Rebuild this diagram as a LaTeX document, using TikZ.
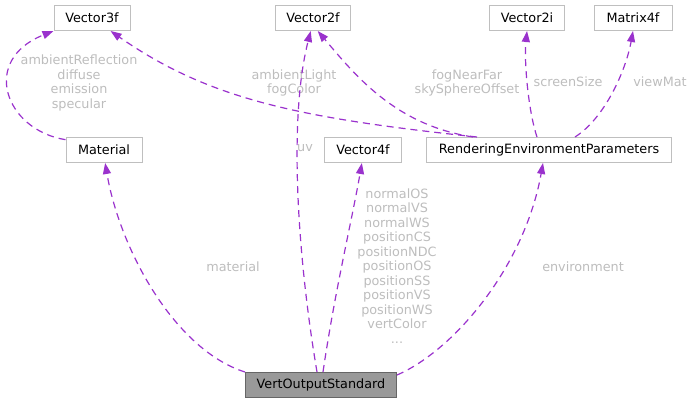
\documentclass[tikz,border=0pt]{standalone}
\usepackage{fontspec}
\setmainfont{DejaVu Sans}
\usetikzlibrary{arrows.meta}
\definecolor{edgepurple}{HTML}{9A32CD}
\definecolor{lblgrey}{HTML}{BDBDBD}
\definecolor{boxgrey}{HTML}{BFBFBF}
\definecolor{focusfill}{HTML}{999999}
\definecolor{focusdraw}{HTML}{666666}

\begin{document}
\begin{tikzpicture}[
    x=1pt, y=-1pt,
    >={Triangle[length=11pt, width=8pt, fill=edgepurple]},
    cls/.style={draw=boxgrey, line width=1pt, fill=white, minimum height=25pt,
                inner xsep=5pt, font=\fontsize{12.8}{14.5}\selectfont},
    focus/.style={cls, draw=focusdraw, fill=focusfill},
    uses/.style={->, draw=edgepurple, line width=1.2pt,
                 dash pattern=on 7pt off 5pt},
    lbl/.style={text=lblgrey, align=center, font=\fontsize{12.8}{14.5}\selectfont},
  ]
  \useasboundingbox (0,0) rectangle (695,403);

  % classes
  \node[cls, minimum width=76pt] (v3f) at (92,18) {Vector3f};
  \node[cls, minimum width=75pt] (v2f) at (313,18) {Vector2f};
  \node[cls, minimum width=75pt] (v2i) at (527,18) {Vector2i};
  \node[cls, minimum width=78pt] (m4f) at (633,18) {Matrix4f};
  \node[cls, minimum width=76pt] (mat) at (104,150) {Material};
  \node[cls, minimum width=77pt] (v4f) at (363,150) {Vector4f};
  \node[cls, minimum width=245pt] (rep) at (549,150) {RenderingEnvironmentParameters};
  \node[focus, minimum width=151pt] (vos) at (321,385) {VertOutputStandard};

  % members of Material
  \draw[uses] (mat.165) .. controls (5,130) and (-20,60) .. (v3f.south west);
  \node[lbl] (lmat) at (79,83) {ambientReflection\\diffuse\\emission\\specular};

  % members of RenderingEnvironmentParameters
  \draw[uses] ([xshift=-72pt]rep.north) .. controls (300,118) and (210,100) .. (v3f.-35);
  \node[lbl] (lamb) at (294,83) {ambientLight\\fogColor};
  \draw[uses] ([xshift=-76pt]rep.north) .. controls (395,125) and (355,75) .. (v2f.-70);
  \node[lbl] (lfog) at (467,83) {fogNearFar\\skySphereOffset};
  \draw[uses] ([xshift=-12pt]rep.north) .. controls (528,110) and (524,60) .. (v2i.south);
  \node[lbl] (lscr) at (568,82) {screenSize};
  \draw[uses] ([xshift=26pt]rep.north) .. controls (605,118) and (626,70) .. (m4f.south);
  \node[lbl] (lview) at (660,82) {viewMat};

  % members of VertOutputStandard
  \draw[uses] (vos.north west) .. controls (175,350) and (120,250) .. (mat.-85);
  \node[lbl] (lmatl) at (233,267) {material};
  \draw[uses] ([xshift=-4pt]vos.north) .. controls (298,260) and (288,120) .. (v2f.-100);
  \node[lbl] (luv) at (305,148) {uv};
  \draw[uses] ([xshift=2pt]vos.north) .. controls (335,290) and (352,220) .. (v4f.-95);
  \node[lbl, anchor=north] (lpos) at (397,185)
    {normalOS\\normalVS\\normalWS\\positionCS\\positionNDC\\positionOS\\positionSS\\positionVS\\positionWS\\vertColor\\...};
  \draw[uses] ([yshift=-3pt]vos.north east) .. controls (455,350) and (525,265) .. ([xshift=-6pt]rep.south);
  \node[lbl] (lenv) at (583,267) {environment};

\end{tikzpicture}
\end{document}
